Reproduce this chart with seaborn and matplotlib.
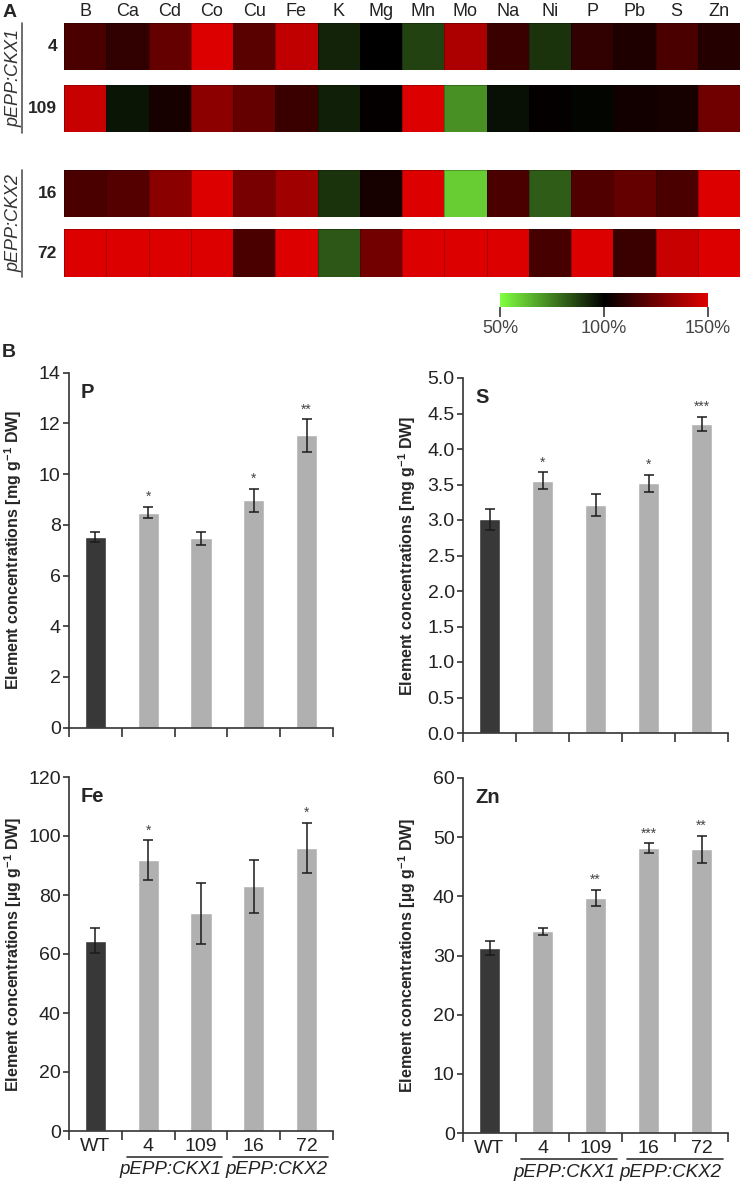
import numpy as np
import pandas as pd
import seaborn as sns
import matplotlib
matplotlib.use('Agg')
import matplotlib.pyplot as plt
from matplotlib.colors import LinearSegmentedColormap
from matplotlib.cm import ScalarMappable
from matplotlib.colors import Normalize

sns.set_style('ticks')
plt.rcParams['font.family'] = ['Liberation Sans', 'DejaVu Sans']
plt.rcParams['mathtext.fontset'] = 'custom'
plt.rcParams['mathtext.rm'] = 'Liberation Sans'
plt.rcParams['mathtext.bf'] = 'Liberation Sans:bold'

# panel A: element content of the lines relative to WT (%)
elements = ['B', 'Ca', 'Cd', 'Co', 'Cu', 'Fe', 'K', 'Mg', 'Mn', 'Mo', 'Na', 'Ni', 'P', 'Pb', 'S', 'Zn']
ratio_4 = [117, 111, 123, 150, 120, 143, 93, 100, 87, 139, 113, 90, 111, 107, 117, 108]
ratio_109 = [145, 96, 105, 132, 123, 113, 94, 101, 150, 72, 97, 101, 99, 104, 105, 125]
ratio_16 = [117, 119, 131, 150, 127, 136, 90, 105, 150, 60, 117, 82, 118, 123, 117, 150]
ratio_72 = [150, 150, 150, 150, 117, 150, 83, 126, 150, 150, 150, 116, 150, 113, 145, 150]
row_names = ['4', '109', '16', '72']

# panel B: concentrations
lines = ['WT', '4', '109', '16', '72']
p_mean = [7.52, 8.48, 7.47, 8.97, 11.53]
p_err = [0.2, 0.23, 0.26, 0.45, 0.64]
p_sig = ['', '*', '', '*', '**']
s_mean = [3.01, 3.55, 3.21, 3.52, 4.35]
s_err = [0.15, 0.12, 0.16, 0.12, 0.1]
s_sig = ['', '*', '', '*', '***']
fe_mean = [64.5, 91.8, 73.8, 83.0, 96.0]
fe_err = [4.3, 6.7, 10.3, 9.0, 8.5]
fe_sig = ['', '*', '', '', '*']
zn_mean = [31.3, 34.1, 39.7, 48.2, 47.95]
zn_err = [1.2, 0.6, 1.4, 0.8, 2.3]
zn_sig = ['', '', '**', '***', '**']

W, H = 742, 1183
fig = plt.figure(figsize=(W / 100, H / 100), dpi=100)


def box(l, t, r, b):
    return [l / W, 1 - b / H, (r - l) / W, (b - t) / H]


cmap = LinearSegmentedColormap.from_list('gkr', ['#80ff40', '#000000', '#dd0000'])

rows = [ratio_4, ratio_109, ratio_16, ratio_72]
row_pix = [(22.7, 70), (85, 132.3), (170, 217.3), (229.3, 276.7)]
for i, (vals, (t, b)) in enumerate(zip(rows, row_pix)):
    ax = fig.add_axes(box(64, t, 740, b))
    df = pd.DataFrame([vals], columns=elements, index=[row_names[i]])
    sns.heatmap(df, ax=ax, cmap=cmap, vmin=50, vmax=150, cbar=False,
                linewidths=0.6, linecolor=(0, 0, 0, 0.25))
    ax.set_yticks([0.5], [row_names[i]], rotation=0, fontsize=12.5, fontweight='bold')
    ax.tick_params(axis='y', length=0, pad=5)
    if i == 0:
        ax.xaxis.tick_top()
        ax.set_xticks(np.arange(16) + 0.5, elements, rotation=0, fontsize=13, color='#222222')
        ax.tick_params(axis='x', length=0, pad=2)
    else:
        ax.set_xticks([])
    ax.set_xlabel('')
    ax.set_ylabel('')

# vertical group labels on heatmap
for label, (t, b) in [('pEPP:CKX1', (23, 133)), ('pEPP:CKX2', (170, 277))]:
    fig.text(13.5 / W, 1 - (t + b) / 2 / H, label, rotation=90, ha='center', va='center',
             fontsize=13, style='italic', color='#333333')
    fig.add_artist(plt.Line2D([21.7 / W, 21.7 / W], [1 - t / H, 1 - b / H],
                              color='#555555', lw=1.2))

fig.text(3 / W, 1 - 4 / H, 'A', fontsize=14, fontweight='bold', va='top')
fig.text(2 / W, 1 - 344 / H, 'B', fontsize=14, fontweight='bold', va='top')

# colour bar
cax = fig.add_axes(box(500, 293, 708, 307))
cb = fig.colorbar(ScalarMappable(norm=Normalize(50, 150), cmap=cmap), cax=cax,
                  orientation='horizontal', ticks=[50, 100, 150])
cb.outline.set_visible(False)
cb.ax.set_xticklabels(['50%', '100%', '150%'])
cb.ax.tick_params(length=7.5, width=1.4, color='#555555', labelsize=13,
                  labelcolor='#444444', pad=2)

# bar panels
panels = [
    (box(69, 372.7, 333, 727.6), 'P', p_mean, p_err, p_sig, 14, 2, '%d', 'mg', False),
    (box(463, 378, 728, 733), 'S', s_mean, s_err, s_sig, 5, 0.5, '%.1f', 'mg', False),
    (box(69, 777, 333, 1131), 'Fe', fe_mean, fe_err, fe_sig, 120, 20, '%d', 'µg', True),
    (box(463, 778, 728, 1133), 'Zn', zn_mean, zn_err, zn_sig, 60, 10, '%d', 'µg', True),
]
colors = ['#383838', '#b0b0b0', '#b0b0b0', '#b0b0b0', '#b0b0b0']

for rect, name, mean, err, sig, ymax, step, fmt, unit, bottom in panels:
    ax = fig.add_axes(rect)
    sns.barplot(x=lines, y=mean, hue=lines, palette=colors, legend=False,
                width=0.4, saturation=1, ax=ax)
    ax.errorbar(range(len(lines)), mean, yerr=err, fmt='none', ecolor='#1a1a1a',
                elinewidth=1.1, capsize=3.5, capthick=1.1)
    for i, s in enumerate(sig):
        if s:
            ax.annotate(s, (i, mean[i] + err[i]), xytext=(0, 2), textcoords='offset points',
                        ha='center', va='bottom', fontsize=10, color='#444444')
    ax.set_xlim(-0.5, 4.5)
    ax.set_ylim(0, ymax)
    yt = np.arange(0, ymax + step / 2, step)
    ax.set_yticks(yt, [fmt % v for v in yt])
    ax.set_xticks(np.arange(-0.5, 5, 1), [''] * 6)
    ax.tick_params(axis='x', which='major', length=6.5, width=1.2, color='#333333')
    ax.tick_params(axis='y', length=4, width=1.2, color='#333333', labelsize=14,
                   labelcolor='#222222', pad=2)
    if bottom:
        ax.set_xticks(range(5), lines, minor=True)
        ax.tick_params(axis='x', which='minor', length=0, labelsize=14,
                       labelcolor='#222222', pad=5)
        for x0, x1, lab in [(0.6, 2.4, 'pEPP:CKX1'), (2.6, 4.4, 'pEPP:CKX2')]:
            ax.plot([x0, x1], [-0.073, -0.073], color='#333333', lw=1.2,
                    transform=ax.get_xaxis_transform(), clip_on=False)
            ax.text((x0 + x1) / 2 - 0.08, -0.11, lab, transform=ax.get_xaxis_transform(),
                    ha='center', va='center', fontsize=13.5, style='italic', color='#222222')
    ax.set_xlabel('')
    ax.set_ylabel('Element concentrations [' + unit + r' g$^{\mathbf{-1}}$ DW]',
                  fontsize=11.5, fontweight='bold')
    ax.yaxis.set_label_coords(-0.17, 0.5)
    ax.text(0.045, 0.972, name, transform=ax.transAxes, ha='left', va='top',
            fontsize=14.5, fontweight='bold')
    for sp in ['left', 'bottom']:
        ax.spines[sp].set_color('#333333')
        ax.spines[sp].set_linewidth(1.2)
    sns.despine(ax=ax)

fig.savefig('out.png', dpi=100)
